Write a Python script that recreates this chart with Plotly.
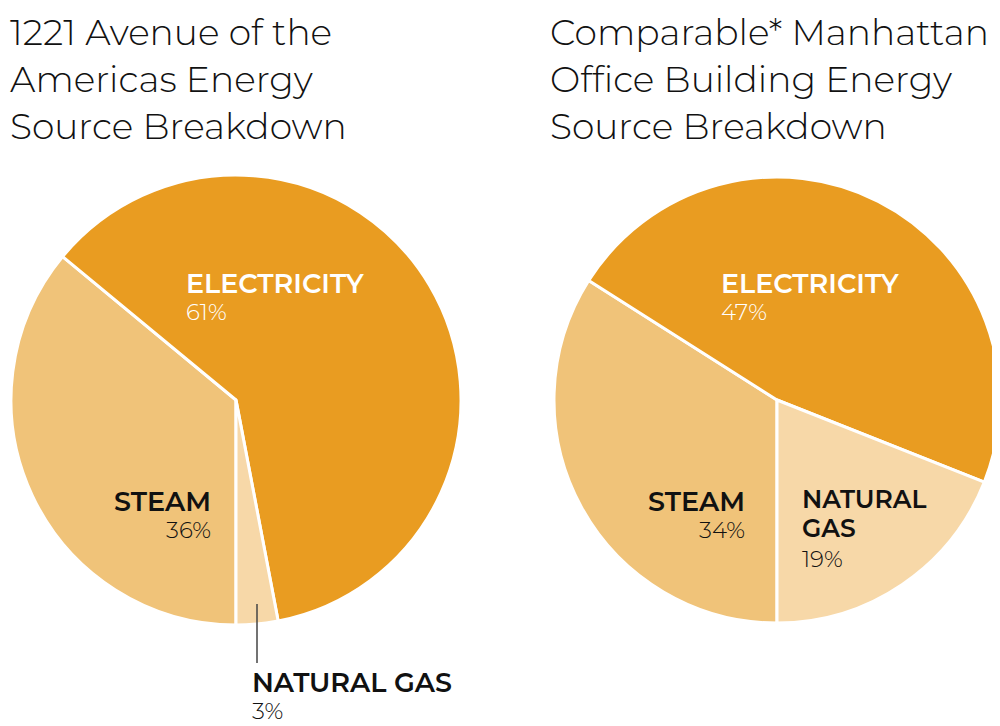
import plotly.graph_objects as go

# Data
sources = ["STEAM", "ELECTRICITY", "NATURAL GAS"]
building_share = [36, 61, 3]
comparable_share = [34, 47, 19]
colors = ["#F0C379", "#E99C21", "#F7D8A8"]

title_left = "1221 Avenue of the<br>Americas Energy<br>Source Breakdown"
title_right = "Comparable* Manhattan<br>Office Building Energy<br>Source Breakdown"

# page body adds an 8px margin; figure fills the rest of the 1000x726 window
OFF = 8
W, H = 1000 - OFF, 726 - OFF
FONT = "Montserrat, Lato, 'Open Sans', sans-serif"


def px(x):
    return (x - OFF) / W


def py(y):
    return 1 - (y - OFF) / H


fig = go.Figure()
for vals, dom_x in [(building_share, [11, 461]), (comparable_share, [554, 1000])]:
    fig.add_trace(go.Pie(
        labels=sources, values=vals, sort=False, direction="clockwise",
        rotation=180, textinfo="none", hoverinfo="label+percent",
        marker=dict(colors=colors, line=dict(color="white", width=3)),
        domain=dict(x=[px(dom_x[0]), px(dom_x[1])], y=[py(625), py(175)]),
        showlegend=False,
    ))

ann = []


def title(x, text):
    ann.append(dict(x=px(x), y=py(8), xref="paper", yref="paper", xanchor="left", yanchor="top",
                    text=text, showarrow=False, align="left",
                    font=dict(family=FONT, size=36, color="#111111", weight=300)))


def label(x, ytop, name, pct, color, anchor, base=21, name_size=27):
    text = (f"<span style='font-size:{name_size}px;font-weight:600'>{name}</span><br>"
            f"<span style='font-size:23px;font-weight:300'>{pct}%</span>")
    ann.append(dict(x=px(x), y=py(ytop - 10), xref="paper", yref="paper", xanchor=anchor, yanchor="top",
                    text=text, showarrow=False, align=anchor,
                    font=dict(family=FONT, size=base, color=color)))


title(8, title_left)
title(548, title_right)

# left pie labels
label(184, 275, sources[1], building_share[1], "white", "left")
label(213, 493, sources[0], building_share[0], "#111111", "right")
label(250, 674, sources[2], building_share[2], "#111111", "left")

# right pie labels
label(719, 275, sources[1], comparable_share[1], "white", "left")
label(747, 493, sources[0], comparable_share[0], "#111111", "right")
label(800, 492, "NATURAL<br>GAS", comparable_share[2], "#111111", "left", base=22.5, name_size=25)

fig.update_layout(
    width=W, height=H, margin=dict(l=0, r=0, t=0, b=0),
    paper_bgcolor="white", plot_bgcolor="white",
    annotations=ann,
    shapes=[dict(type="line", xref="paper", yref="paper", x0=px(257), x1=px(257), y0=py(604), y1=py(663),
                 line=dict(color="#444444", width=1.5))],
)

fig.write_html("out.html")
